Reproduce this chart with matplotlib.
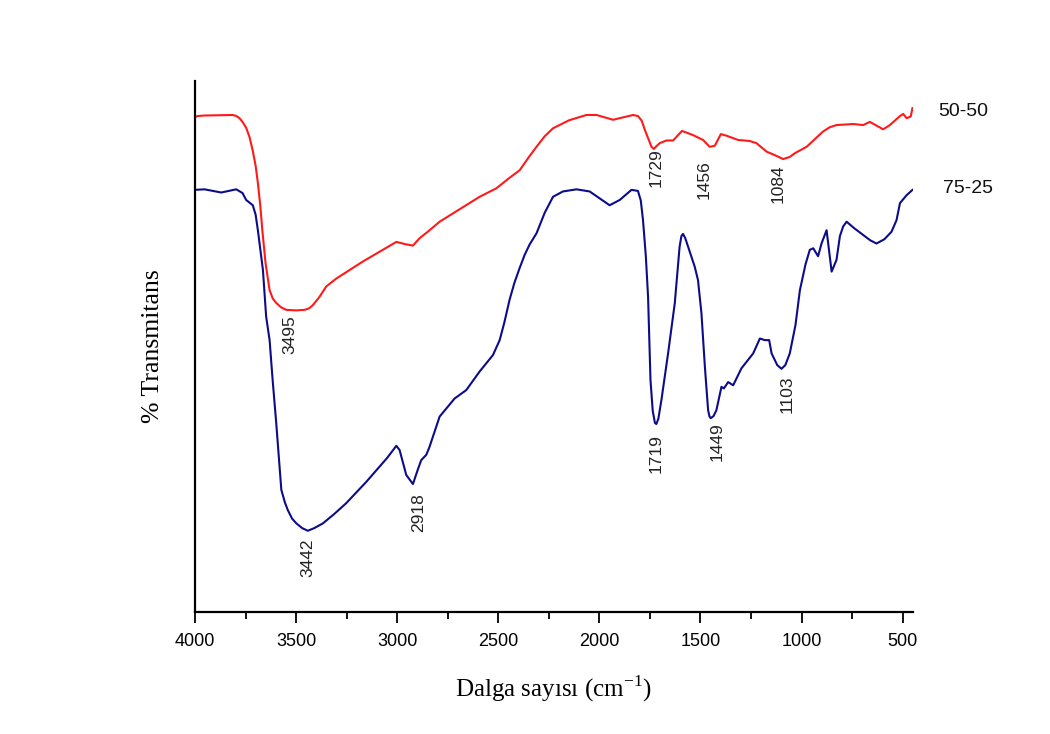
import matplotlib
matplotlib.use("Agg")
import matplotlib.pyplot as plt
from matplotlib.ticker import MultipleLocator

# ---- data (wavenumber cm-1, relative transmittance a.u.) ----
wn_5050 = [4000, 3988, 3953, 3813, 3795, 3780, 3765, 3747, 3730, 3714, 3700, 3689, 3677,
           3667, 3651, 3631, 3615, 3598, 3575, 3549, 3500,
           3458, 3435, 3417, 3385, 3351, 3301, 3170, 3004, 2963, 2922, 2889, 2849, 2790,
           2592, 2509, 2450, 2394, 2350, 2311, 2270, 2229, 2150, 2064, 2014, 1932, 1833,
           1809, 1790, 1775, 1742, 1730, 1721, 1701, 1668,
           1635, 1591, 1536, 1487, 1454, 1429, 1399, 1371, 1314, 1256, 1223, 1173, 1124,
           1091, 1058, 1033, 975, 893, 860, 827, 744, 695, 662, 596, 563, 513, 497, 480,
           460, 451]
t_5050 = [93.2, 93.4, 93.5, 93.6, 93.4, 93.0, 92.3, 91.2, 89.4, 86.8, 84.0, 80.8, 76.5,
          71.9, 65.7, 60.6, 59.0, 58.2, 57.4, 56.9, 56.8,
          56.9, 57.2, 57.8, 59.3, 61.3, 62.8, 66.0, 69.7, 69.3, 69.0, 70.4, 71.6, 73.5,
          78.2, 79.8, 81.6, 83.2, 85.6, 87.6, 89.6, 91.1, 92.6, 93.6, 93.6, 92.7, 93.6,
          93.4, 92.5, 90.8, 87.6, 87.2, 87.6, 88.3, 88.8,
          88.8, 90.6, 89.8, 88.9, 87.6, 87.8, 90.0, 89.7, 88.9, 88.7, 88.3, 86.7, 85.9,
          85.3, 85.7, 86.4, 87.6, 90.5, 91.3, 91.7, 91.9, 91.7, 92.3, 90.9, 91.7, 93.4,
          93.8, 93.0, 93.3, 94.9]

wn_7525 = [4000, 3953, 3870, 3796, 3765, 3747, 3714, 3700, 3689, 3664, 3648, 3631, 3616,
           3598, 3573, 3555, 3541, 3520, 3499, 3470, 3442, 3410, 3367, 3310, 3252, 3153,
           3050, 3004, 2988, 2955, 2922, 2899, 2881,
           2856, 2840, 2790, 2716, 2658, 2592, 2526, 2493, 2470, 2444, 2420, 2394, 2370,
           2345, 2311, 2270, 2229, 2180,
           2113, 2048, 1949, 1899, 1841, 1809, 1795, 1784, 1770, 1759, 1747, 1736, 1725,
           1718, 1708, 1693, 1660, 1627, 1603, 1594, 1586, 1575, 1561, 1528, 1512, 1495,
           1478, 1462, 1455, 1449, 1435, 1421, 1396, 1384,
           1363, 1338, 1297, 1239, 1206, 1181, 1160, 1148, 1120, 1099, 1080, 1058, 1030,
           1008, 980, 959, 942, 918, 901, 876, 851, 827, 810, 794, 777, 740, 695, 660,
           629, 590, 555, 530, 513, 480, 451]
t_7525 = [79.5, 79.6, 79.0, 79.6, 78.9, 77.6, 76.6, 74.8, 71.9, 64.4, 55.6, 51.2, 43.7,
          35.5, 23.0, 20.6, 19.2, 17.6, 16.7, 15.8, 15.3, 15.8, 16.7, 18.5, 20.5, 24.5,
          29.0, 31.3, 30.5, 25.8, 24.1, 26.7, 28.6,
          29.6, 31.1, 36.8, 40.2, 41.8, 45.3, 48.4, 51.2, 54.5, 58.8, 62.0, 64.8, 67.2,
          69.2, 71.3, 75.2, 78.2, 79.2,
          79.6, 79.2, 76.6, 77.6, 79.5, 79.3, 77.5, 73.8, 67.0, 59.4, 43.7, 37.9, 35.6,
          35.4, 36.4, 39.9, 48.7, 58.1, 68.8, 70.8, 71.2, 70.4, 68.8, 65.0, 62.5, 56.3,
          46.2, 38.0, 36.8, 36.5, 36.9, 38.0, 42.4, 42.1,
          43.3, 42.7, 45.9, 48.7, 51.5, 51.2, 51.2, 48.7, 46.5, 45.8, 46.5, 48.7, 54.0,
          60.6, 65.5, 68.2, 68.5, 67.0, 69.4, 71.9, 64.1, 66.3, 70.8, 72.6, 73.5, 72.3,
          71.0, 70.0, 69.4, 70.2, 71.6, 73.8, 77.0, 78.5, 79.5]

peak_labels = ["3495", "3442", "2918", "1729", "1456", "1084", "1719", "1449", "1103"]
peak_x = [3532, 3443, 2894, 1721, 1484, 1118, 1721, 1419, 1069]
peak_y = [52.2, 10.2, 18.8, 83.6, 81.5, 80.6, 29.9, 32.0, 41.1]

series_names = ["50-50", "75-25"]
series_label_x = [198, 177]
series_label_y = [94.2, 79.8]

xticks = [4000, 3500, 3000, 2500, 2000, 1500, 1000, 500]

# ---- figure ----
fig = plt.figure(figsize=(10.5, 7.34), dpi=100)
ax = fig.add_axes([195 / 1050, (734 - 612) / 734, (912.7 - 195) / 1050, (612 - 81) / 734])

ax.plot(wn_5050, t_5050, color="#ff1a1a", lw=1.5)
ax.plot(wn_7525, t_7525, color="#0c0c8a", lw=1.5)

ax.set_xlim(4000, 450)
ax.set_ylim(0, 100)

for s in ["top", "right"]:
    ax.spines[s].set_visible(False)
for s in ["left", "bottom"]:
    ax.spines[s].set_linewidth(1.6)

ax.set_yticks([])
ax.set_xticks(xticks)
ax.xaxis.set_minor_locator(MultipleLocator(250))
ax.tick_params(axis="x", which="major", direction="out", length=8, width=1.3,
               labelsize=13, pad=7)
ax.tick_params(axis="x", which="minor", direction="out", length=5, width=1.3)
for lab in ax.get_xticklabels():
    lab.set_family(["Liberation Sans", "DejaVu Sans"])

serif = ["Liberation Serif", "DejaVu Serif"]
ax.set_xlabel("Dalga sayısı (cm$^{\\mathregular{-1}}$)", family=serif, fontsize=18, labelpad=17)
ax.set_ylabel("% Transmitans", family=serif, fontsize=18.5, labelpad=22)

for lbl, x, y in zip(peak_labels, peak_x, peak_y):
    ax.text(x, y, lbl, rotation=90, ha="center", va="center", fontsize=12.5,
            color="#222222", family=["Liberation Sans", "DejaVu Sans"])

for name, x, y in zip(series_names, series_label_x, series_label_y):
    ax.text(x, y, name, ha="center", va="center", fontsize=14, color="#111111",
            family=["Liberation Sans", "DejaVu Sans"], clip_on=False)

fig.savefig("out.png", dpi=100)
